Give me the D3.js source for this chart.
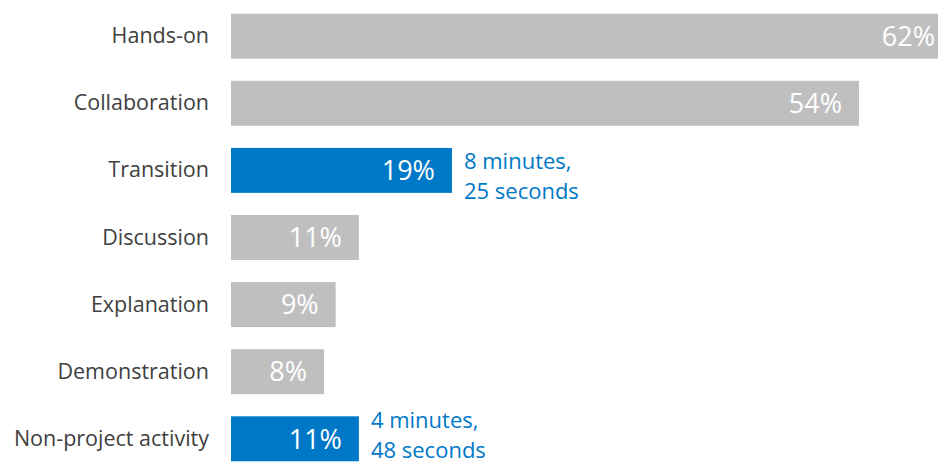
<!DOCTYPE html>
<html>
<head>
<meta charset="utf-8">
<script src="https://cdn.jsdelivr.net/npm/d3@7"></script>
<style>
  html, body { margin: 0; padding: 0; background: #fff; overflow: hidden; }
  svg { display: block; }
</style>
</head>
<body>
<script>
const categories = ["Hands-on", "Collaboration", "Transition", "Discussion", "Explanation", "Demonstration", "Non-project activity"];
const values = [62, 54, 19, 11, 9, 8, 11];
const highlighted = [false, false, true, false, false, false, true];
const annotations = [null, null, ["8 minutes,", "25 seconds"], null, null, null, ["4 minutes,", "48 seconds"]];

const W = 938, H = 463;
const svg = d3.select("body").append("svg").attr("width", W).attr("height", H);

const x = d3.scaleLinear().domain([0, 62]).range([231, 952]);
const y = d3.scaleBand().domain(categories).range([3, 472]).paddingInner(0.33).paddingOuter(0.16);

const font = "'Open Sans', 'Noto Sans', sans-serif";
const GRAY = "#BFBFBF", BLUE = "#0078C8";

const rows = svg.selectAll("g.row").data(categories).join("g").attr("class", "row");

rows.append("rect")
  .attr("x", x(0))
  .attr("y", d => y(d))
  .attr("width", (d, i) => x(values[i]) - x(0))
  .attr("height", y.bandwidth())
  .attr("fill", (d, i) => highlighted[i] ? BLUE : GRAY);

rows.append("text")
  .attr("x", 209)
  .attr("y", d => y(d) + y.bandwidth() / 2)
  .attr("dy", "0.33em")
  .attr("text-anchor", "end")
  .attr("font-family", font)
  .attr("font-size", 21.5)
  .attr("fill", "#404040")
  .text(d => d);

rows.append("text")
  .attr("x", (d, i) => x(values[i]) - 17)
  .attr("y", d => y(d) + y.bandwidth() / 2)
  .attr("dy", "0.36em")
  .attr("text-anchor", "end")
  .attr("font-family", font)
  .attr("font-size", 27)
  .attr("fill", "#fff")
  .text((d, i) => values[i] + "%");

const lineH = 30;
rows.each(function(d, i) {
  if (!annotations[i]) return;
  const n = annotations[i].length;
  const first = Math.min(y(d) + 21, H - 5 - (n - 1) * lineH);
  const t = d3.select(this).append("text")
    .attr("font-family", font)
    .attr("font-size", 22)
    .attr("fill", BLUE);
  annotations[i].forEach((line, k) => {
    t.append("tspan")
      .attr("x", x(values[i]) + 12)
      .attr("y", first + k * lineH)
      .text(line);
  });
});
</script>
</body>
</html>
